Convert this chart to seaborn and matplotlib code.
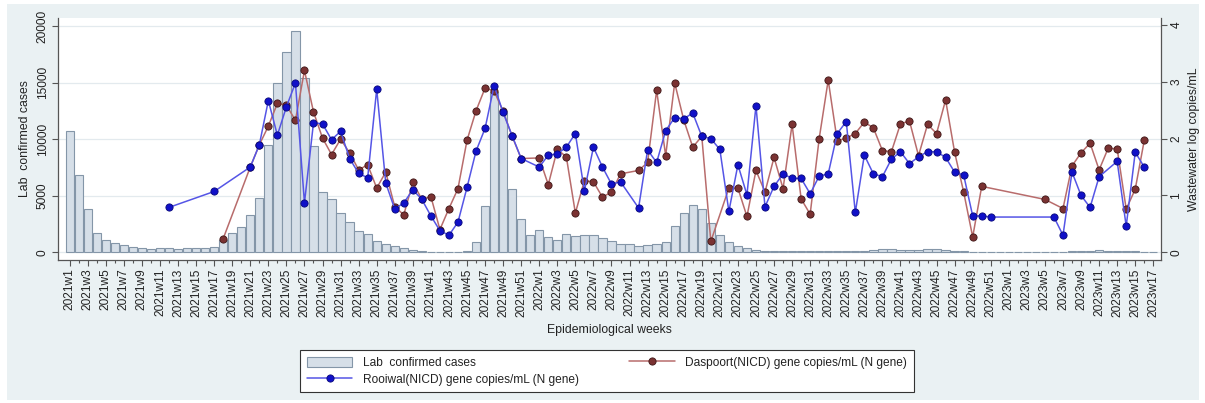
import numpy as np
import pandas as pd
import matplotlib
matplotlib.use("Agg")
import matplotlib.pyplot as plt
from matplotlib.patches import Rectangle, Patch
from matplotlib.lines import Line2D
import seaborn as sns

nan = np.nan

# Epidemiological weeks 2021w1 .. 2023w17
weeks = ([f"2021w{w}" for w in range(1, 53)]
         + [f"2022w{w}" for w in range(1, 53)]
         + [f"2023w{w}" for w in range(1, 18)])

# Weekly laboratory-confirmed cases
cases_2021 = [10700, 6800, 3860, 1680, 1090, 820, 620, 470, 390, 320, 350, 380, 300,
              350, 380, 380, 470, 1050, 1700, 2270, 3330, 4830, 9450, 14930, 17670, 19550,
              15370, 9360, 5360, 4710, 3450, 2710, 1910, 1590, 1000, 710, 530, 380, 200,
              120, 60, 60, 60, 60, 90, 880, 4090, 14200, 12300, 5620, 2950, 1530]
cases_2022 = [1940, 1350, 1120, 1620, 1470, 1500, 1500, 1270, 1000, 710, 740, 590, 650,
              710, 910, 2300, 3450, 4180, 3830, 2620, 1560, 910, 590, 350, 180, 120,
              100, 100, 90, 90, 80, 80, 80, 80, 90, 100, 150, 200, 250, 250, 200, 180,
              220, 250, 250, 200, 150, 100, 70, 60, 50, 50]
cases_2023 = [40, 40, 40, 40, 50, 50, 60, 100, 150, 150, 170, 150, 130, 100, 80, 60, 50]

# Rooiwal wastewater, log gene copies/mL (N gene)
rooiwal_2021 = [nan, nan, nan, nan, nan, nan, nan, nan, nan, nan, nan, 0.79, nan,
                nan, nan, nan, 1.07, nan, nan, nan, 1.50, 1.89, 2.67, 2.06, 2.56, 2.98,
                0.87, 2.28, 2.26, 1.98, 2.13, 1.65, 1.39, 1.31, 2.87, 1.22, 0.76, 0.87, 1.10,
                0.93, 0.64, 0.38, 0.30, 0.53, 1.14, 1.78, 2.18, 2.93, 2.46, 2.05, 1.65, nan]
rooiwal_2022 = [1.50, 1.71, 1.73, 1.85, 2.09, 1.08, 1.85, 1.50, 1.20, 1.24, nan, 0.78, 1.80,
                1.58, 2.14, 2.37, 2.35, 2.45, 2.04, 2.00, 1.81, 0.72, 1.54, 1.01, 2.58, 0.80,
                1.16, 1.38, 1.30, 1.30, 1.03, 1.34, 1.38, 2.09, 2.30, 0.70, 1.71, 1.38, 1.33,
                1.64, 1.77, 1.56, 1.68, 1.77, 1.77, 1.67, 1.41, 1.36, 0.64, 0.64, 0.62, nan]
rooiwal_2023 = [nan, nan, nan, nan, nan, 0.62, 0.30, 1.41, 1.00, 0.79, 1.33, nan, 1.60,
                0.46, 1.76, 1.50, nan]

# Daspoort wastewater, log gene copies/mL (N gene)
daspoort_2021 = [nan, nan, nan, nan, nan, nan, nan, nan, nan, nan, nan, nan, nan,
                 nan, nan, nan, nan, 0.24, nan, nan, 1.50, 1.89, 2.22, 2.62, 2.59, 2.32,
                 3.20, 2.47, 2.01, 1.72, 1.99, 1.75, 1.45, 1.54, 1.13, 1.41, 0.80, 0.66, 1.23,
                 0.93, 0.98, 0.40, 0.77, 1.12, 1.97, 2.49, 2.89, 2.84, 2.48, 2.04, 1.65, nan]
daspoort_2022 = [1.66, 1.19, 1.81, 1.68, 0.69, 1.26, 1.24, 0.97, 1.06, 1.38, nan, 1.44, 1.58,
                 2.85, 1.70, 2.98, 2.33, 1.85, 2.04, 0.19, nan, 1.13, 1.13, 0.63, 1.44, 1.06,
                 1.67, 1.12, 2.25, 0.94, 0.67, 2.00, 3.03, 1.96, 2.01, 2.09, 2.29, 2.19, 1.79,
                 1.77, 2.26, 2.31, 1.70, 2.25, 2.09, 2.68, 1.76, 1.06, 0.27, 1.16, nan, nan]
daspoort_2023 = [nan, nan, nan, nan, 0.93, nan, 0.77, 1.52, 1.75, 1.92, 1.45, 1.83, 1.82,
                 0.76, 1.11, 1.97, nan]

cases = cases_2021 + cases_2022 + cases_2023
rooiwal = rooiwal_2021 + rooiwal_2022 + rooiwal_2023
daspoort = daspoort_2021 + daspoort_2022 + daspoort_2023

pos = np.arange(len(weeks))
df = pd.DataFrame({"pos": pos, "week": weeks, "cases": cases,
                   "rooiwal": rooiwal, "daspoort": daspoort})

# Colours
bg_outer = "#EAF1F3"
bar_fill = "#D6DFE8"
bar_edge = "#8496A8"
blue_line, blue_mk, blue_edge = "#5555E6", "#1010C8", "#08087A"
brown_line, brown_mk, brown_edge = "#B86C6C", "#7A3232", "#3E1616"
axis_col = "#555555"
grid_col = "#E3EAEE"
MS = 5.2

sns.set_theme(style="ticks")
plt.rcParams["font.family"] = ["Liberation Sans", "DejaVu Sans"]
plt.rcParams["text.color"] = "#222222"
plt.rcParams["axes.labelcolor"] = "#222222"
plt.rcParams["xtick.color"] = axis_col
plt.rcParams["ytick.color"] = axis_col
plt.rcParams["xtick.labelcolor"] = "#222222"
plt.rcParams["ytick.labelcolor"] = "#222222"

W_PX, H_PX = 1205, 403
fig = plt.figure(figsize=(W_PX / 100, H_PX / 100), dpi=100)
fig.patch.set_facecolor("white")
fig.patches.append(Rectangle((7 / W_PX, 3 / H_PX), (1199 - 7) / W_PX, (399 - 3) / H_PX,
                             transform=fig.transFigure, facecolor=bg_outer,
                             edgecolor="none", zorder=-10))

left, right, bottom, top = 58.3, 1160.7, 260.0, 18.0
ax = fig.add_axes([left / W_PX, 1 - bottom / H_PX, (right - left) / W_PX, (bottom - top) / H_PX])
ax.set_facecolor("white")

# Bars: weekly confirmed cases
sns.barplot(data=df, x="pos", y="cases", native_scale=True, width=0.92,
            color=bar_fill, saturation=1, edgecolor=bar_edge, linewidth=0.8,
            errorbar=None, ax=ax, zorder=2)

ax.set_ylim(-680, 20707)
ax.set_yticks([0, 5000, 10000, 15000, 20000])
ax.set_yticklabels(["0", "5000", "10000", "15000", "20000"])
ax.yaxis.grid(True, color=grid_col, linewidth=0.9)
ax.set_axisbelow(True)

ax.set_xlim(-1.26, 120.82)
ax.set_xticks(pos[::2])
ax.set_xticklabels(weeks[::2], rotation=90, fontsize=8.6)
ax.set_xticks(pos, minor=True)
ax.tick_params(axis="x", which="major", length=4, width=0.8, pad=2, bottom=True)
ax.tick_params(axis="x", which="minor", length=2.5, width=0.8, bottom=True)
ax.tick_params(axis="y", length=4, width=0.8, pad=3, labelsize=8.6, left=True)
plt.setp(ax.get_yticklabels(), rotation=90, va="center", ha="right")

ax.set_xlabel("Epidemiological weeks", fontsize=8.8, labelpad=5)
ax.set_ylabel("Lab  confirmed cases", fontsize=8.8, labelpad=4)

for side in ("top", "right"):
    ax.spines[side].set_visible(False)
for side in ("left", "bottom"):
    ax.spines[side].set_color(axis_col)
    ax.spines[side].set_linewidth(0.9)

# Wastewater series on the right axis
ax2 = ax.twinx()
das = df[["pos", "daspoort"]].dropna()
roo = df[["pos", "rooiwal"]].dropna()
sns.lineplot(data=das, x="pos", y="daspoort", ax=ax2, color=brown_line, linewidth=1.1,
             marker="o", markersize=MS, markerfacecolor=brown_mk,
             markeredgecolor=brown_edge, markeredgewidth=0.6, estimator=None, sort=True)
sns.lineplot(data=roo, x="pos", y="rooiwal", ax=ax2, color=blue_line, linewidth=1.1,
             marker="o", markersize=MS, markerfacecolor=blue_mk,
             markeredgecolor=blue_edge, markeredgewidth=0.6, estimator=None, sort=True)

ax2.set_xlim(-1.26, 120.82)
ax2.set_ylim(-0.136, 4.123)
ax2.set_yticks([0, 1, 2, 3, 4])
ax2.set_yticklabels(["0", "1", "2", "3", "4"])
ax2.tick_params(axis="y", length=4, width=0.8, pad=3, labelsize=8.6, right=True)
plt.setp(ax2.get_yticklabels(), rotation=90, va="center", ha="left")
ax2.set_ylabel("Wastewater log copies/mL", fontsize=8.8, labelpad=4)
ax2.set_xlabel("")
for side in ("top", "left", "bottom"):
    ax2.spines[side].set_visible(False)
ax2.spines["right"].set_color(axis_col)
ax2.spines["right"].set_linewidth(0.9)

# Legend below the plot
handles = [
    Patch(facecolor=bar_fill, edgecolor=bar_edge, linewidth=0.8),
    Line2D([], [], color=blue_line, linewidth=1.1, marker="o", markersize=MS,
           markerfacecolor=blue_mk, markeredgecolor=blue_edge, markeredgewidth=0.6),
    Line2D([], [], color=brown_line, linewidth=1.1, marker="o", markersize=MS,
           markerfacecolor=brown_mk, markeredgecolor=brown_edge, markeredgewidth=0.6),
]
labels = ["Lab  confirmed cases",
          "Rooiwal(NICD) gene copies/mL (N gene)",
          "Daspoort(NICD) gene copies/mL (N gene)"]
leg = fig.legend(handles, labels, loc="upper center", ncol=2,
                 bbox_to_anchor=(607 / W_PX, 1 - 344 / H_PX),
                 frameon=True, fancybox=False, framealpha=1, edgecolor="#333333",
                 facecolor="white", fontsize=8.6, handlelength=3.8, handleheight=1.0,
                 handletextpad=0.9, columnspacing=4.2, borderpad=0.55, labelspacing=0.35)
leg.get_frame().set_linewidth(0.8)

fig.savefig("out.png", dpi=100, facecolor=fig.get_facecolor())
